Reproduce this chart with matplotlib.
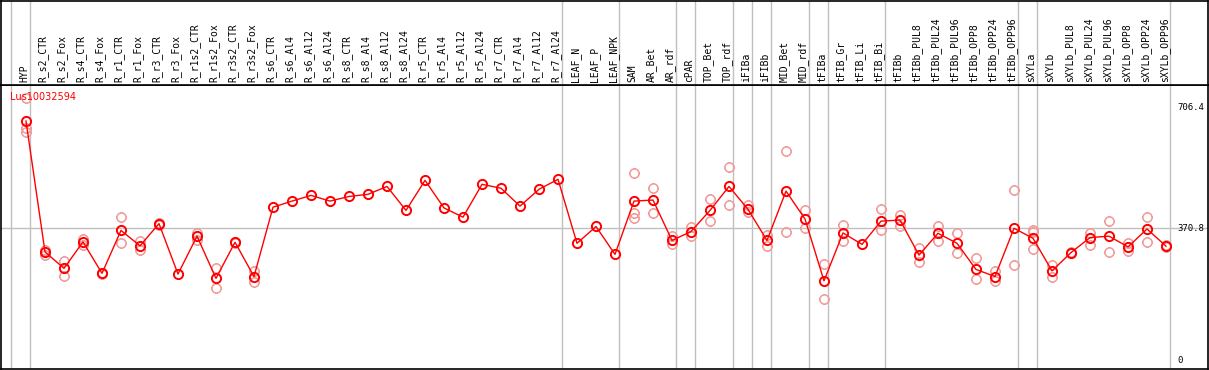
import matplotlib
matplotlib.use("Agg")
import matplotlib.pyplot as plt
import matplotlib.transforms as mtransforms
from matplotlib.path import Path

labels = ["HYP", "R_s2_CTR", "R_s2_Fox", "R_s4_CTR", "R_s4_Fox", "R_r1_CTR", "R_r1_Fox",
          "R_r3_CTR", "R_r3_Fox", "R_r1s2_CTR", "R_r1s2_Fox", "R_r3s2_CTR", "R_r3s2_Fox",
          "R_s6_CTR", "R_s6_Al4", "R_s6_Al12", "R_s6_Al24", "R_s8_CTR", "R_s8_Al4",
          "R_s8_Al12", "R_s8_Al24", "R_r5_CTR", "R_r5_Al4", "R_r5_Al12", "R_r5_Al24",
          "R_r7_CTR", "R_r7_Al4", "R_r7_Al12", "R_r7_Al24", "LEAF_N", "LEAF_P", "LEAF_NPK",
          "SAM", "AR_Bet", "AR_rdf", "cPAR", "TOP_Bet", "TOP_rdf", "iFIBa", "iFIBb",
          "MID_Bet", "MID_rdf", "tFIBa", "tFIB_Gr", "tFIB_Li", "tFIB_Bi", "tFIBb",
          "tFIBb_PUL8", "tFIBb_PUL24", "tFIBb_PUL96", "tFIBb_OPP8", "tFIBb_OPP24",
          "tFIBb_OPP96", "sXYLa", "sXYLb", "sXYLb_PUL8", "sXYLb_PUL24", "sXYLb_PUL96",
          "sXYLb_OPP8", "sXYLb_OPP24", "sXYLb_OPP96"]

mean_vals = [670, 304, 258, 332, 244, 364, 321, 383, 242, 348, 230, 331, 235,
             429, 446, 462, 446, 459, 465, 487, 420, 504, 427, 401, 493, 482, 432, 479, 507,
             328, 375, 297, 446, 449, 336, 361, 420, 487, 423, 336, 474, 396, 223,
             357, 325, 390, 393, 295, 356, 328, 255, 235, 370, 342,
             251, 302, 344, 348, 318, 368, 320]

reps = [[733, 650, 640], [309, 295], [279, 237], [339, 323], [246, 242], [401, 328],
        [335, 309], [386, 380], [], [358, 337], [258, 202], [333, 329], [251, 221],
        [], [], [], [], [], [], [], [], [], [], [], [], [], [], [], [],
        [], [], [],
        [526, 412, 398], [482, 412], [348, 326], [374, 349], [451, 390], [540, 434],
        [436, 415], [350, 321], [585, 359], [421, 370], [270, 171], [378, 334], [],
        [423, 364], [407, 377], [316, 275], [376, 334], [356, 300], [286, 227],
        [251, 223], [476, 266], [366, 360, 311], [267, 235], [305, 300], [358, 324],
        [390, 305], [330, 307], [401, 331], [322, 319]]

# index of the last column in each group
group_ends = [-1, 0, 28, 31, 34, 35, 37, 38, 39, 41, 42, 45, 52, 53, 60]

ytick_vals = [706.4, 370.8, 0]
ytick_text = ["706.4", "370.8", "0"]
gene = "Lus10032594"

# circle marker with little ticks
circ = Path.unit_circle()
t = 1.18
tick_path = Path([(0, 1), (0, t), (0, -1), (0, -t), (1, 0), (t, 0), (-1, 0), (-t, 0)],
                 [Path.MOVETO, Path.LINETO] * 4)
mk = Path.make_compound_path(circ, tick_path)

W, H = 1209, 370
fig = plt.figure(figsize=(W / 100, H / 100), dpi=100)
ax = fig.add_axes([1 / W, 1 / H, 1207 / W, 284 / H])
axl = fig.add_axes([1 / W, 285 / H, 1207 / W, 84.4 / H], sharex=ax)

ax.set_xlim((1 - 26) / 19, (1208 - 26) / 19)
ax.set_ylim(-23.5, 770.7)

for a in (ax, axl):
    a.set_xticks([])
    a.set_yticks([])
    for s in a.spines.values():
        s.set_color("black")
        s.set_linewidth(1.2)
    for g in group_ends:
        a.axvline(g + 0.2, color="#c0c0c0", lw=1, zorder=0)

ax.axhline(370.8, color="#c0c0c0", lw=1, zorder=0)

xs = list(range(len(labels)))
for i, r in enumerate(reps):
    if r:
        ax.plot([i] * len(r), r, linestyle="none", marker=mk, ms=7.8,
                mfc="none", mec="#f09a9a", mew=1.1, zorder=2)

ax.plot(xs, mean_vals, color="#ff0000", lw=1, marker=mk, ms=7.8,
        mfc="none", mec="#ff0000", mew=1.4, zorder=3)

lab_tr = mtransforms.blended_transform_factory(axl.transData, axl.transAxes)
for i, lab in enumerate(labels):
    axl.text(i - 0.1, 0.03, lab, rotation=90, ha="center", va="bottom",
             fontsize=7, family="DejaVu Sans Mono", transform=lab_tr)

for v, s in zip(ytick_vals, ytick_text):
    ax.text(60.6, v, s, ha="left", va="center", fontsize=6.5,
            family="DejaVu Sans Mono")

ax.text(0.0075, 0.958, gene, color="#ff0000", fontsize=7, ha="left", va="center",
        transform=ax.transAxes)

fig.savefig("out.png", dpi=100)
